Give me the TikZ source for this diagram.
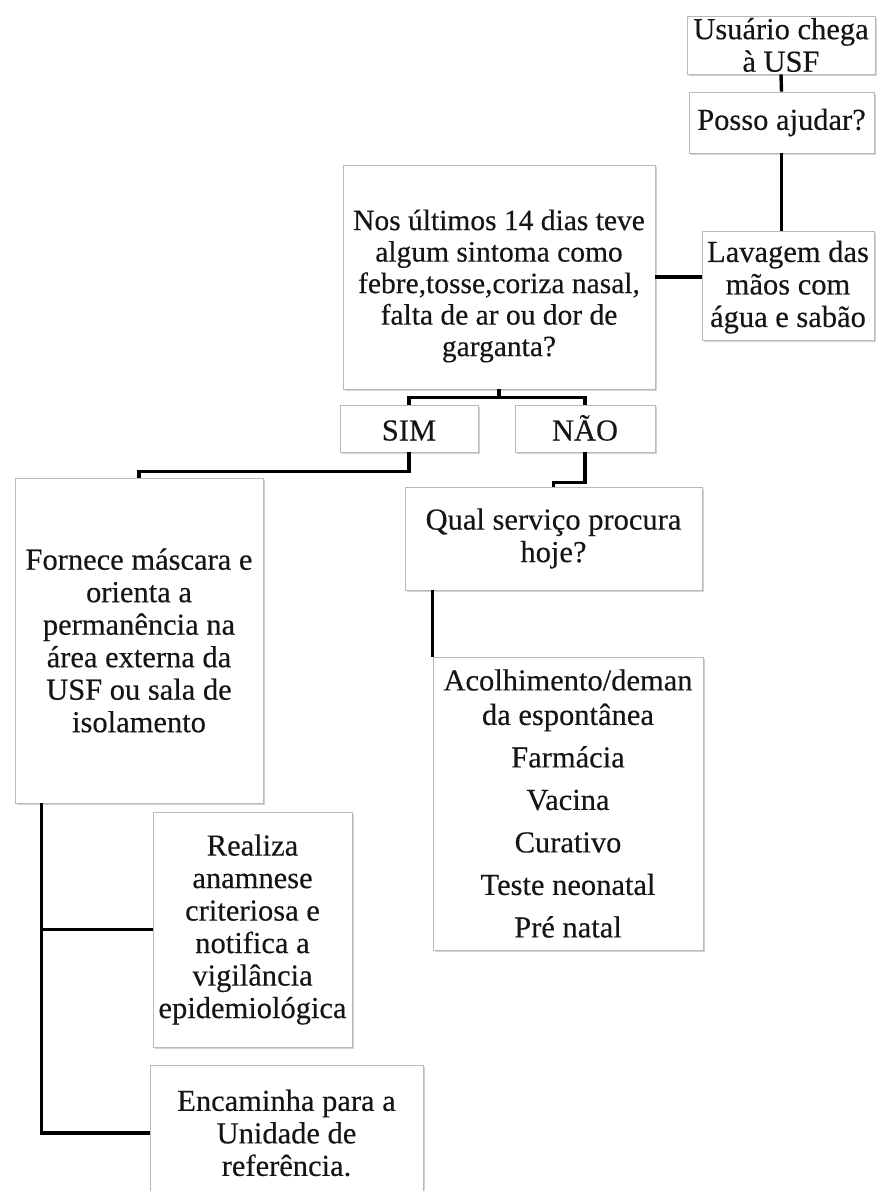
\documentclass[tikz,border=0pt]{standalone}
\usepackage{fontspec}
\setmainfont{Liberation Serif}[FakeBold=0.3]
\usetikzlibrary{shadows,calc}
\definecolor{txt}{HTML}{151515}
\newcommand\fsz{\fontsize{30.5}{32.5}\selectfont}
\newcommand\fsq{\fontsize{29.5}{31.5}\selectfont}
\begin{document}
\begin{tikzpicture}[x=1pt,y=-1pt,
  box/.style={draw=gray!55, line width=0.8pt, fill=white, align=center, inner sep=0pt,
    text=txt, font=\fsz,
    drop shadow={shadow xshift=2pt, shadow yshift=-2pt, opacity=0.35, fill=gray}},
  link/.style={draw=black, line width=3.4pt}]
\useasboundingbox (0,0) rectangle (877,1191);
\clip (0,0) rectangle (877,1191);
\fill[white] (0,0) rectangle (877,1191);

\node[box, minimum width=188pt, minimum height=58pt] (usr) at (781,45) {Usuário chega\\à USF};
\node[box, minimum width=185pt, minimum height=61pt] (posso) at (781.5,122.5) {Posso ajudar?};
\node[box, minimum width=172pt, minimum height=109pt] (lav) at (788,285.5) {\\[-8pt]Lavagem das\\mãos com\\água e sabão};
\node[box, minimum width=312pt, minimum height=224pt,
  label={[yshift=-9pt, align=center, font=\fsq, text=txt]center:Nos últimos 14 dias teve\\algum sintoma como\\febre,tosse,coriza nasal,\\falta de ar ou dor de\\garganta?}] (q) at (499,277) {};
\node[box, minimum width=138pt, minimum height=47pt, text height=26pt, text depth=2pt] (sim) at (409,428.5) {SIM};
\node[box, minimum width=140pt, minimum height=47pt, text height=26pt, text depth=2pt] (nao) at (585,428.5) {NÃO};
\node[box, minimum width=248pt, minimum height=325pt] (forn) at (139,640.5) {Fornece máscara e\\orienta a\\permanência na\\área externa da\\USF ou sala de\\isolamento};
\node[box, minimum width=297pt, minimum height=103pt] (qual) at (553.5,538.5) {Qual serviço procura\\hoje?};
\node[box, minimum width=270pt, minimum height=293pt] (acol) at (568,803.5) {Acolhimento/deman\\[2pt]da espontânea\\[10pt]Farmácia\\[10pt]Vacina\\[10pt]Curativo\\[10pt]Teste neonatal\\[10pt]Pré natal};
\node[box, minimum width=199pt, minimum height=235pt] (real) at (252.5,929.5) {Realiza\\anamnese\\criteriosa e\\notifica a\\vigilância\\epidemiológica};
\node[box, minimum width=273pt, minimum height=136pt] (enc) at (286.5,1133) {Encaminha para a\\Unidade de\\referência.};

\draw[link] (usr.south) -- (posso.north);
\draw[link] (posso.south) -- (posso.south |- lav.north);
\draw[link] (q.east) -- (q.east -| lav.west);
\draw[link] (q.south) -- ++(0,8) -| (sim.north);
\draw[link] (q.south) -- ++(0,8) -| (nao.north);
\draw[link] (sim.south) -- ++(0,19) -| (forn.north);
\draw[link] (nao.south) -- ++(0,30) -| (qual.north);
\draw[link] (qual.south -| acol.north west) -- (acol.north west);
\coordinate (tr) at ($(forn.south west)+(27,0)$);
\draw[link] (tr) |- (real.west);
\draw[link] (tr) |- (enc.west);
\end{tikzpicture}
\end{document}
